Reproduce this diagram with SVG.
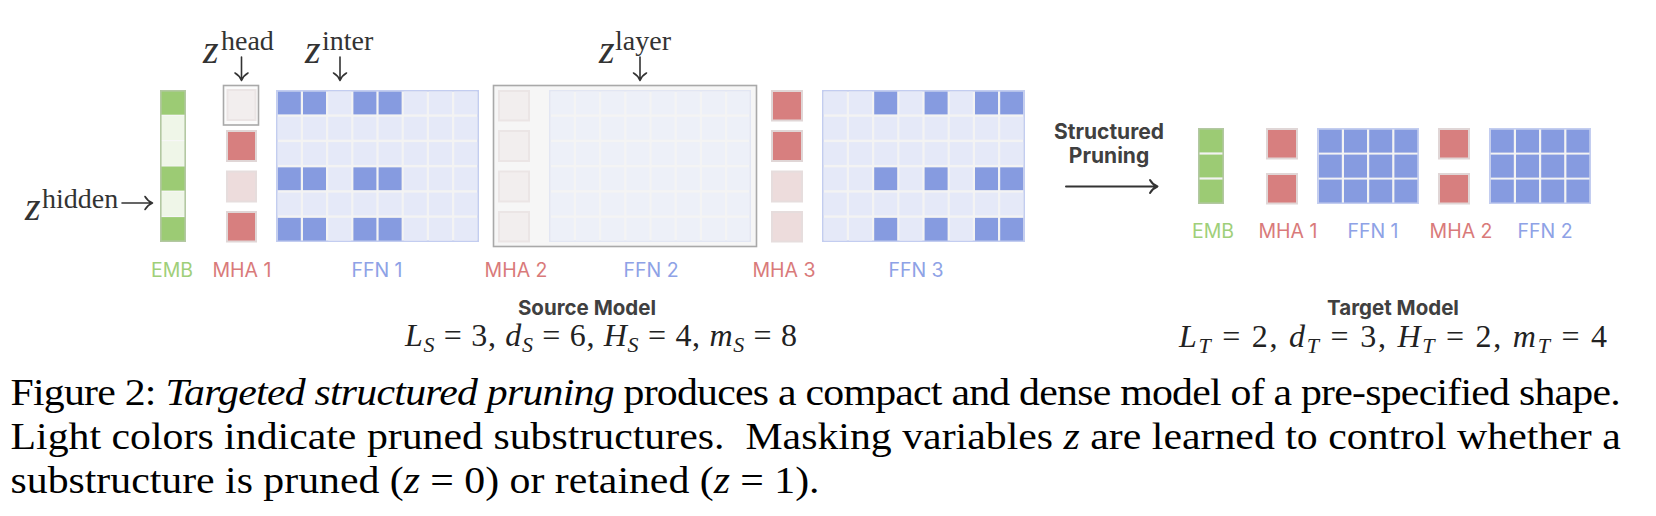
<svg xmlns="http://www.w3.org/2000/svg" width="1656" height="516" viewBox="0 0 1656 516">
<style>
  .bg{fill:#ffffff}
  .gd{fill:#9ccb74}
  .gl{fill:#eff6e8}
  .embo{fill:none;stroke:#b3c8a2;stroke-width:1.6}
  .sep{stroke:#f7f7f7;stroke-width:1.2}
  .sepT{stroke:#f2f2f2;stroke-width:2.2}
  .hd{fill:#d77f7f;stroke:#e0d6d6;stroke-width:2}
  .hl{fill:#eddcdc;stroke:#e6dddd;stroke-width:2}
  .hx{fill:#f2eeee;stroke:#ebe5e5;stroke-width:2}
  .go{fill:#f3f3f3;stroke:#c3cdf0;stroke-width:1.6}
  .goP{fill:#f4f4f4;stroke:#e2e6f3;stroke-width:1.6}
  .bd{fill:#869be0}
  .bl{fill:#e5e9f8}
  .bp{fill:#edf0f8}
  .frame{fill:#fbfbfb;stroke:#a9a9a9;stroke-width:1.6}
  .lframe{fill:#f6f6f6;stroke:#a9a9a9;stroke-width:1.6}
  .lab{font-family:Inter,Roboto,"Liberation Sans",sans-serif;font-size:19.5px;text-anchor:middle}
  .lg{fill:#9fcf79}
  .lr{fill:#d97a7a}
  .lb{fill:#8ea2e6}
  .bold{font-family:Inter,Roboto,"Liberation Sans",sans-serif;font-weight:700;fill:#404040;text-anchor:middle}
  .zi{font-family:"Liberation Serif",serif;font-style:italic;font-size:40px;fill:#333}
  .zs{font-family:"Liberation Serif",serif;font-size:28px;fill:#333}
  .arr{fill:none;stroke:#333;stroke-width:1.6;stroke-linecap:round;stroke-linejoin:round}
  .math{font-family:"Liberation Serif",serif;font-size:32px;fill:#222}
  .cap{font-family:"Liberation Serif",serif;font-size:37px;fill:#000}
</style>
<rect class="bg" x="0" y="0" width="1656" height="516"/>

<!-- SOURCE MODEL -->
<g id="emb-src">
  <rect class="gd" x="160" y="90" width="26" height="25.3"/>
  <rect class="gl" x="160" y="115.3" width="26" height="25.3"/>
  <rect class="gl" x="160" y="140.6" width="26" height="25.3"/>
  <rect class="gd" x="160" y="165.9" width="26" height="25.3"/>
  <rect class="gl" x="160" y="191.2" width="26" height="25.3"/>
  <rect class="gd" x="160" y="216.5" width="26" height="25.5"/>
  <line class="sep" x1="161" y1="115.3" x2="185" y2="115.3"/>
  <line class="sep" x1="161" y1="140.6" x2="185" y2="140.6"/>
  <line class="sep" x1="161" y1="165.9" x2="185" y2="165.9"/>
  <line class="sep" x1="161" y1="191.2" x2="185" y2="191.2"/>
  <line class="sep" x1="161" y1="216.5" x2="185" y2="216.5"/>
  <rect class="embo" x="160.8" y="90.8" width="24.4" height="150.4"/>
</g>

<g id="mha1-src">
  <rect class="frame" x="223.5" y="85.5" width="35" height="39.5"/>
  <rect class="hx" x="227.5" y="90" width="28" height="30"/>
  <rect class="hd" x="227" y="131" width="29" height="30"/>
  <rect class="hl" x="227" y="171.5" width="29" height="30"/>
  <rect class="hd" x="227" y="212" width="29" height="29.5"/>
</g>

<g id="ffn1-src" transform="translate(276,90)">
  <rect class="go" x="0.8" y="0.8" width="201.4" height="150.4"/>
  <rect class="bd" x="1.8" y="1.6" width="23" height="22.8"/>
  <rect class="bd" x="27" y="1.6" width="23" height="22.8"/>
  <rect class="bl" x="52.2" y="1.6" width="23" height="22.8"/>
  <rect class="bd" x="77.4" y="1.6" width="23" height="22.8"/>
  <rect class="bd" x="102.6" y="1.6" width="23" height="22.8"/>
  <rect class="bl" x="127.8" y="1.6" width="23" height="22.8"/>
  <rect class="bl" x="153" y="1.6" width="23" height="22.8"/>
  <rect class="bl" x="178.2" y="1.6" width="23" height="22.8"/>
  <rect class="bl" x="1.8" y="26.85" width="23" height="22.8"/>
  <rect class="bl" x="27" y="26.85" width="23" height="22.8"/>
  <rect class="bl" x="52.2" y="26.85" width="23" height="22.8"/>
  <rect class="bl" x="77.4" y="26.85" width="23" height="22.8"/>
  <rect class="bl" x="102.6" y="26.85" width="23" height="22.8"/>
  <rect class="bl" x="127.8" y="26.85" width="23" height="22.8"/>
  <rect class="bl" x="153" y="26.85" width="23" height="22.8"/>
  <rect class="bl" x="178.2" y="26.85" width="23" height="22.8"/>
  <rect class="bl" x="1.8" y="52.1" width="23" height="22.8"/>
  <rect class="bl" x="27" y="52.1" width="23" height="22.8"/>
  <rect class="bl" x="52.2" y="52.1" width="23" height="22.8"/>
  <rect class="bl" x="77.4" y="52.1" width="23" height="22.8"/>
  <rect class="bl" x="102.6" y="52.1" width="23" height="22.8"/>
  <rect class="bl" x="127.8" y="52.1" width="23" height="22.8"/>
  <rect class="bl" x="153" y="52.1" width="23" height="22.8"/>
  <rect class="bl" x="178.2" y="52.1" width="23" height="22.8"/>
  <rect class="bd" x="1.8" y="77.35" width="23" height="22.8"/>
  <rect class="bd" x="27" y="77.35" width="23" height="22.8"/>
  <rect class="bl" x="52.2" y="77.35" width="23" height="22.8"/>
  <rect class="bd" x="77.4" y="77.35" width="23" height="22.8"/>
  <rect class="bd" x="102.6" y="77.35" width="23" height="22.8"/>
  <rect class="bl" x="127.8" y="77.35" width="23" height="22.8"/>
  <rect class="bl" x="153" y="77.35" width="23" height="22.8"/>
  <rect class="bl" x="178.2" y="77.35" width="23" height="22.8"/>
  <rect class="bl" x="1.8" y="102.6" width="23" height="22.8"/>
  <rect class="bl" x="27" y="102.6" width="23" height="22.8"/>
  <rect class="bl" x="52.2" y="102.6" width="23" height="22.8"/>
  <rect class="bl" x="77.4" y="102.6" width="23" height="22.8"/>
  <rect class="bl" x="102.6" y="102.6" width="23" height="22.8"/>
  <rect class="bl" x="127.8" y="102.6" width="23" height="22.8"/>
  <rect class="bl" x="153" y="102.6" width="23" height="22.8"/>
  <rect class="bl" x="178.2" y="102.6" width="23" height="22.8"/>
  <rect class="bd" x="1.8" y="127.85" width="23" height="22.8"/>
  <rect class="bd" x="27" y="127.85" width="23" height="22.8"/>
  <rect class="bl" x="52.2" y="127.85" width="23" height="22.8"/>
  <rect class="bd" x="77.4" y="127.85" width="23" height="22.8"/>
  <rect class="bd" x="102.6" y="127.85" width="23" height="22.8"/>
  <rect class="bl" x="127.8" y="127.85" width="23" height="22.8"/>
  <rect class="bl" x="153" y="127.85" width="23" height="22.8"/>
  <rect class="bl" x="178.2" y="127.85" width="23" height="22.8"/>
</g>

<g id="layer2-src">
  <rect class="lframe" x="493.5" y="85.5" width="263" height="161"/>
  <g id="mha2-src">
    <rect class="hx" x="499" y="91" width="30" height="29.5"/>
    <rect class="hx" x="499" y="131" width="30" height="30"/>
    <rect class="hx" x="499" y="171.5" width="30" height="30"/>
    <rect class="hx" x="499" y="212" width="30" height="29.5"/>
  </g>
  <g id="ffn2-src" transform="translate(549,90)">
    <rect class="goP" x="0.8" y="0.8" width="200.4" height="150.4"/>
    <rect class="bp" x="1.8" y="1.6" width="23" height="22.8"/>
    <rect class="bp" x="27" y="1.6" width="23" height="22.8"/>
    <rect class="bp" x="52.2" y="1.6" width="23" height="22.8"/>
    <rect class="bp" x="77.4" y="1.6" width="23" height="22.8"/>
    <rect class="bp" x="102.6" y="1.6" width="23" height="22.8"/>
    <rect class="bp" x="127.8" y="1.6" width="23" height="22.8"/>
    <rect class="bp" x="153" y="1.6" width="23" height="22.8"/>
    <rect class="bp" x="178.2" y="1.6" width="22" height="22.8"/>
    <rect class="bp" x="1.8" y="26.85" width="23" height="22.8"/>
    <rect class="bp" x="27" y="26.85" width="23" height="22.8"/>
    <rect class="bp" x="52.2" y="26.85" width="23" height="22.8"/>
    <rect class="bp" x="77.4" y="26.85" width="23" height="22.8"/>
    <rect class="bp" x="102.6" y="26.85" width="23" height="22.8"/>
    <rect class="bp" x="127.8" y="26.85" width="23" height="22.8"/>
    <rect class="bp" x="153" y="26.85" width="23" height="22.8"/>
    <rect class="bp" x="178.2" y="26.85" width="22" height="22.8"/>
    <rect class="bp" x="1.8" y="52.1" width="23" height="22.8"/>
    <rect class="bp" x="27" y="52.1" width="23" height="22.8"/>
    <rect class="bp" x="52.2" y="52.1" width="23" height="22.8"/>
    <rect class="bp" x="77.4" y="52.1" width="23" height="22.8"/>
    <rect class="bp" x="102.6" y="52.1" width="23" height="22.8"/>
    <rect class="bp" x="127.8" y="52.1" width="23" height="22.8"/>
    <rect class="bp" x="153" y="52.1" width="23" height="22.8"/>
    <rect class="bp" x="178.2" y="52.1" width="22" height="22.8"/>
    <rect class="bp" x="1.8" y="77.35" width="23" height="22.8"/>
    <rect class="bp" x="27" y="77.35" width="23" height="22.8"/>
    <rect class="bp" x="52.2" y="77.35" width="23" height="22.8"/>
    <rect class="bp" x="77.4" y="77.35" width="23" height="22.8"/>
    <rect class="bp" x="102.6" y="77.35" width="23" height="22.8"/>
    <rect class="bp" x="127.8" y="77.35" width="23" height="22.8"/>
    <rect class="bp" x="153" y="77.35" width="23" height="22.8"/>
    <rect class="bp" x="178.2" y="77.35" width="22" height="22.8"/>
    <rect class="bp" x="1.8" y="102.6" width="23" height="22.8"/>
    <rect class="bp" x="27" y="102.6" width="23" height="22.8"/>
    <rect class="bp" x="52.2" y="102.6" width="23" height="22.8"/>
    <rect class="bp" x="77.4" y="102.6" width="23" height="22.8"/>
    <rect class="bp" x="102.6" y="102.6" width="23" height="22.8"/>
    <rect class="bp" x="127.8" y="102.6" width="23" height="22.8"/>
    <rect class="bp" x="153" y="102.6" width="23" height="22.8"/>
    <rect class="bp" x="178.2" y="102.6" width="22" height="22.8"/>
    <rect class="bp" x="1.8" y="127.85" width="23" height="22.8"/>
    <rect class="bp" x="27" y="127.85" width="23" height="22.8"/>
    <rect class="bp" x="52.2" y="127.85" width="23" height="22.8"/>
    <rect class="bp" x="77.4" y="127.85" width="23" height="22.8"/>
    <rect class="bp" x="102.6" y="127.85" width="23" height="22.8"/>
    <rect class="bp" x="127.8" y="127.85" width="23" height="22.8"/>
    <rect class="bp" x="153" y="127.85" width="23" height="22.8"/>
    <rect class="bp" x="178.2" y="127.85" width="22" height="22.8"/>
  </g>
</g>

<g id="mha3-src">
  <rect class="hd" x="772" y="91" width="30" height="29.5"/>
  <rect class="hd" x="772" y="131" width="30" height="30"/>
  <rect class="hl" x="772" y="171.5" width="30" height="30"/>
  <rect class="hl" x="772" y="212" width="30" height="29.5"/>
</g>

<g id="ffn3-src" transform="translate(822,90)">
  <rect class="go" x="0.8" y="0.8" width="201.4" height="150.4"/>
  <rect class="bl" x="1.8" y="1.6" width="23" height="22.8"/>
  <rect class="bl" x="27" y="1.6" width="23" height="22.8"/>
  <rect class="bd" x="52.2" y="1.6" width="23" height="22.8"/>
  <rect class="bl" x="77.4" y="1.6" width="23" height="22.8"/>
  <rect class="bd" x="102.6" y="1.6" width="23" height="22.8"/>
  <rect class="bl" x="127.8" y="1.6" width="23" height="22.8"/>
  <rect class="bd" x="153" y="1.6" width="23" height="22.8"/>
  <rect class="bd" x="178.2" y="1.6" width="23" height="22.8"/>
  <rect class="bl" x="1.8" y="26.85" width="23" height="22.8"/>
  <rect class="bl" x="27" y="26.85" width="23" height="22.8"/>
  <rect class="bl" x="52.2" y="26.85" width="23" height="22.8"/>
  <rect class="bl" x="77.4" y="26.85" width="23" height="22.8"/>
  <rect class="bl" x="102.6" y="26.85" width="23" height="22.8"/>
  <rect class="bl" x="127.8" y="26.85" width="23" height="22.8"/>
  <rect class="bl" x="153" y="26.85" width="23" height="22.8"/>
  <rect class="bl" x="178.2" y="26.85" width="23" height="22.8"/>
  <rect class="bl" x="1.8" y="52.1" width="23" height="22.8"/>
  <rect class="bl" x="27" y="52.1" width="23" height="22.8"/>
  <rect class="bl" x="52.2" y="52.1" width="23" height="22.8"/>
  <rect class="bl" x="77.4" y="52.1" width="23" height="22.8"/>
  <rect class="bl" x="102.6" y="52.1" width="23" height="22.8"/>
  <rect class="bl" x="127.8" y="52.1" width="23" height="22.8"/>
  <rect class="bl" x="153" y="52.1" width="23" height="22.8"/>
  <rect class="bl" x="178.2" y="52.1" width="23" height="22.8"/>
  <rect class="bl" x="1.8" y="77.35" width="23" height="22.8"/>
  <rect class="bl" x="27" y="77.35" width="23" height="22.8"/>
  <rect class="bd" x="52.2" y="77.35" width="23" height="22.8"/>
  <rect class="bl" x="77.4" y="77.35" width="23" height="22.8"/>
  <rect class="bd" x="102.6" y="77.35" width="23" height="22.8"/>
  <rect class="bl" x="127.8" y="77.35" width="23" height="22.8"/>
  <rect class="bd" x="153" y="77.35" width="23" height="22.8"/>
  <rect class="bd" x="178.2" y="77.35" width="23" height="22.8"/>
  <rect class="bl" x="1.8" y="102.6" width="23" height="22.8"/>
  <rect class="bl" x="27" y="102.6" width="23" height="22.8"/>
  <rect class="bl" x="52.2" y="102.6" width="23" height="22.8"/>
  <rect class="bl" x="77.4" y="102.6" width="23" height="22.8"/>
  <rect class="bl" x="102.6" y="102.6" width="23" height="22.8"/>
  <rect class="bl" x="127.8" y="102.6" width="23" height="22.8"/>
  <rect class="bl" x="153" y="102.6" width="23" height="22.8"/>
  <rect class="bl" x="178.2" y="102.6" width="23" height="22.8"/>
  <rect class="bl" x="1.8" y="127.85" width="23" height="22.8"/>
  <rect class="bl" x="27" y="127.85" width="23" height="22.8"/>
  <rect class="bd" x="52.2" y="127.85" width="23" height="22.8"/>
  <rect class="bl" x="77.4" y="127.85" width="23" height="22.8"/>
  <rect class="bd" x="102.6" y="127.85" width="23" height="22.8"/>
  <rect class="bl" x="127.8" y="127.85" width="23" height="22.8"/>
  <rect class="bd" x="153" y="127.85" width="23" height="22.8"/>
  <rect class="bd" x="178.2" y="127.85" width="23" height="22.8"/>
</g>

<!-- TARGET MODEL -->
<g id="emb-tgt">
  <rect class="gd" x="1198" y="128" width="26" height="76"/>
  <line class="sepT" x1="1199" y1="153.5" x2="1223" y2="153.5"/>
  <line class="sepT" x1="1199" y1="178.5" x2="1223" y2="178.5"/>
  <rect class="embo" x="1198.8" y="128.8" width="24.4" height="74.4"/>
</g>

<g id="mha1-tgt">
  <rect class="hd" x="1267" y="129" width="30" height="29.5"/>
  <rect class="hd" x="1267" y="174" width="30" height="29.5"/>
</g>

<g id="ffn1-tgt" transform="translate(1317,128)">
  <rect class="go" x="0.8" y="0.8" width="100.4" height="74.4"/>
  <rect class="bd" x="1.8" y="1.6" width="23" height="23"/>
  <rect class="bd" x="27" y="1.6" width="23" height="23"/>
  <rect class="bd" x="52.2" y="1.6" width="23" height="23"/>
  <rect class="bd" x="77.4" y="1.6" width="23" height="23"/>
  <rect class="bd" x="1.8" y="26.6" width="23" height="23"/>
  <rect class="bd" x="27" y="26.6" width="23" height="23"/>
  <rect class="bd" x="52.2" y="26.6" width="23" height="23"/>
  <rect class="bd" x="77.4" y="26.6" width="23" height="23"/>
  <rect class="bd" x="1.8" y="51.6" width="23" height="23"/>
  <rect class="bd" x="27" y="51.6" width="23" height="23"/>
  <rect class="bd" x="52.2" y="51.6" width="23" height="23"/>
  <rect class="bd" x="77.4" y="51.6" width="23" height="23"/>
</g>

<g id="mha2-tgt">
  <rect class="hd" x="1439" y="129" width="30" height="29.5"/>
  <rect class="hd" x="1439" y="174" width="30" height="29.5"/>
</g>

<g id="ffn2-tgt" transform="translate(1489,128)">
  <rect class="go" x="0.8" y="0.8" width="100.4" height="74.4"/>
  <rect class="bd" x="1.8" y="1.6" width="23" height="23"/>
  <rect class="bd" x="27" y="1.6" width="23" height="23"/>
  <rect class="bd" x="52.2" y="1.6" width="23" height="23"/>
  <rect class="bd" x="77.4" y="1.6" width="23" height="23"/>
  <rect class="bd" x="1.8" y="26.6" width="23" height="23"/>
  <rect class="bd" x="27" y="26.6" width="23" height="23"/>
  <rect class="bd" x="52.2" y="26.6" width="23" height="23"/>
  <rect class="bd" x="77.4" y="26.6" width="23" height="23"/>
  <rect class="bd" x="1.8" y="51.6" width="23" height="23"/>
  <rect class="bd" x="27" y="51.6" width="23" height="23"/>
  <rect class="bd" x="52.2" y="51.6" width="23" height="23"/>
  <rect class="bd" x="77.4" y="51.6" width="23" height="23"/>
</g>

<!-- component labels -->
<g id="labels">
  <text class="lab lg" x="172" y="277">EMB</text>
  <text class="lab lr" x="242" y="277">MHA 1</text>
  <text class="lab lb" x="377" y="277">FFN 1</text>
  <text class="lab lr" x="516" y="277">MHA 2</text>
  <text class="lab lb" x="651" y="277">FFN 2</text>
  <text class="lab lr" x="784" y="277">MHA 3</text>
  <text class="lab lb" x="916" y="277">FFN 3</text>
  <text class="lab lg" x="1213" y="238">EMB</text>
  <text class="lab lr" x="1288" y="238">MHA 1</text>
  <text class="lab lb" x="1373" y="238">FFN 1</text>
  <text class="lab lr" x="1461" y="238">MHA 2</text>
  <text class="lab lb" x="1545" y="238">FFN 2</text>
</g>

<!-- mask variable labels -->
<g id="z-labels">
  <text class="zi" x="203" y="63">z</text>
  <text class="zs" x="221" y="50">head</text>
  <text class="zi" x="305" y="63">z</text>
  <text class="zs" x="322" y="50">inter</text>
  <text class="zi" x="599" y="63">z</text>
  <text class="zs" x="615" y="50">layer</text>
  <text class="zi" x="25" y="220">z</text>
  <text class="zs" x="42" y="208">hidden</text>
</g>

<g id="connectors">
  <path class="arr" d="M241.5,57 V80 M235,73 Q239.5,75.5 241.5,80.5 Q243.5,75.5 248,73"/>
  <path class="arr" d="M340,57 V80 M333.5,73 Q338,75.5 340,80.5 Q342,75.5 346.5,73"/>
  <path class="arr" d="M640,57 V80 M633.5,73 Q638,75.5 640,80.5 Q642,75.5 646.5,73"/>
  <path class="arr" d="M122,203 H152 M145,196.5 Q147.5,201 152.5,203 Q147.5,205 145,209.5"/>
  <path class="arr" d="M1066,186.5 H1157 M1150,180 Q1152.5,184.5 1157.5,186.5 Q1152.5,188.5 1150,193" style="stroke-width:2"/>
</g>

<g id="pruning-label">
  <text class="bold" x="1109" y="139" font-size="21">Structured</text>
  <text class="bold" x="1109" y="163" font-size="21">Pruning</text>
</g>

<g id="model-titles">
  <text class="bold" x="587" y="315" font-size="20.5">Source Model</text>
  <text class="bold" x="1393" y="315" font-size="20.5">Target Model</text>
  <text class="math" x="405" y="346" textLength="392" lengthAdjust="spacing"><tspan font-style="italic">L</tspan><tspan font-style="italic" font-size="22" dy="6">S</tspan><tspan dy="-6"> = 3, </tspan><tspan font-style="italic">d</tspan><tspan font-style="italic" font-size="22" dy="6">S</tspan><tspan dy="-6"> = 6, </tspan><tspan font-style="italic">H</tspan><tspan font-style="italic" font-size="22" dy="6">S</tspan><tspan dy="-6"> = 4, </tspan><tspan font-style="italic">m</tspan><tspan font-style="italic" font-size="22" dy="6">S</tspan><tspan dy="-6"> = 8</tspan></text>
  <text class="math" x="1179" y="347" textLength="428" lengthAdjust="spacing"><tspan font-style="italic">L</tspan><tspan font-style="italic" font-size="22" dy="6">T</tspan><tspan dy="-6"> = 2, </tspan><tspan font-style="italic">d</tspan><tspan font-style="italic" font-size="22" dy="6">T</tspan><tspan dy="-6"> = 3, </tspan><tspan font-style="italic">H</tspan><tspan font-style="italic" font-size="22" dy="6">T</tspan><tspan dy="-6"> = 2, </tspan><tspan font-style="italic">m</tspan><tspan font-style="italic" font-size="22" dy="6">T</tspan><tspan dy="-6"> = 4</tspan></text>
</g>

<g id="caption" transform="translate(10.5,0) scale(1.13,1)">
  <text class="cap" x="0" y="405" textLength="1425" lengthAdjust="spacing">Figure 2: <tspan font-style="italic">Targeted structured pruning</tspan> produces a compact and dense model of a pre-specified shape.</text>
  <text class="cap" x="0" y="449" textLength="1425" lengthAdjust="spacing">Light colors indicate pruned substructures.&#160; Masking variables <tspan font-style="italic">z</tspan> are learned to control whether a</text>
  <text class="cap" x="0" y="493" textLength="716" lengthAdjust="spacing">substructure is pruned (<tspan font-style="italic">z</tspan> = 0) or retained (<tspan font-style="italic">z</tspan> = 1).</text>
</g>
</svg>
